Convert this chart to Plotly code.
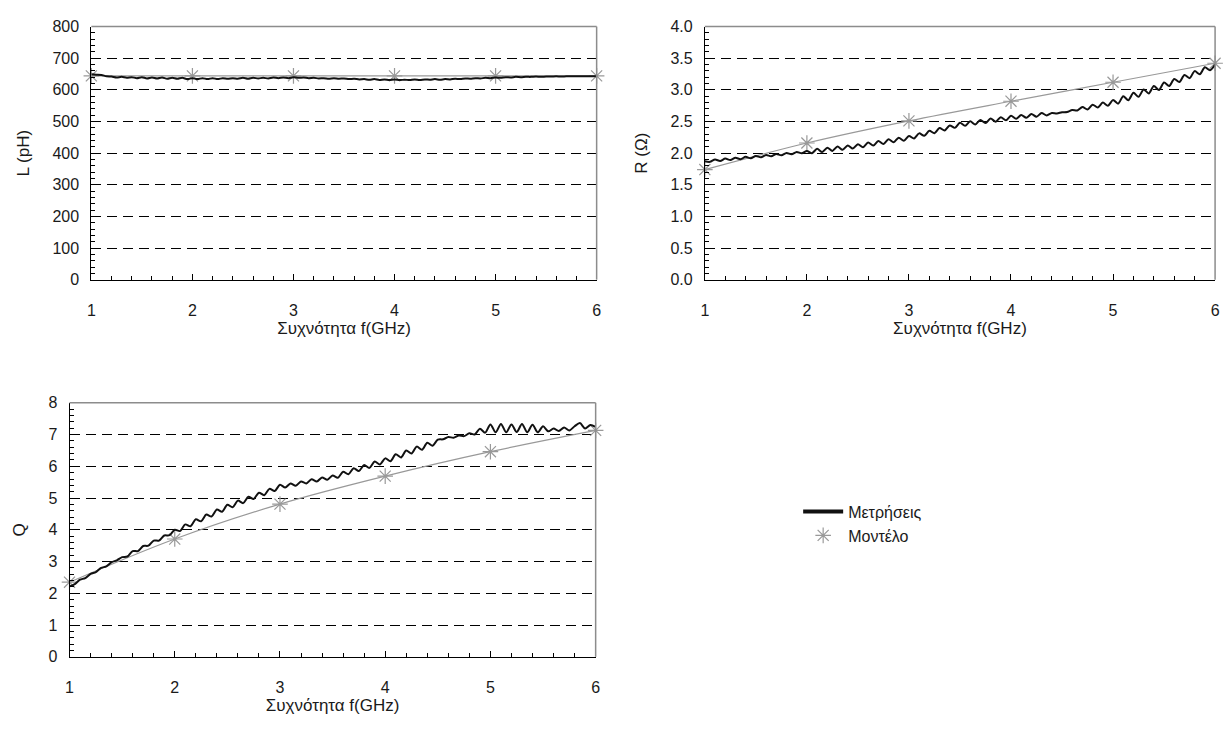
import plotly.graph_objects as go

# ---------------- data ----------------
freq = [1.00, 1.05, 1.10, 1.15, 1.20, 1.25, 1.30, 1.35, 1.40, 1.45,
        1.50, 1.55, 1.60, 1.65, 1.70, 1.75, 1.80, 1.85, 1.90, 1.95,
        2.00, 2.05, 2.10, 2.15, 2.20, 2.25, 2.30, 2.35, 2.40, 2.45,
        2.50, 2.55, 2.60, 2.65, 2.70, 2.75, 2.80, 2.85, 2.90, 2.95,
        3.00, 3.05, 3.10, 3.15, 3.20, 3.25, 3.30, 3.35, 3.40, 3.45,
        3.50, 3.55, 3.60, 3.65, 3.70, 3.75, 3.80, 3.85, 3.90, 3.95,
        4.00, 4.05, 4.10, 4.15, 4.20, 4.25, 4.30, 4.35, 4.40, 4.45,
        4.50, 4.55, 4.60, 4.65, 4.70, 4.75, 4.80, 4.85, 4.90, 4.95,
        5.00, 5.05, 5.10, 5.15, 5.20, 5.25, 5.30, 5.35, 5.40, 5.45,
        5.50, 5.55, 5.60, 5.65, 5.70, 5.75, 5.80, 5.85, 5.90, 5.95,
        6.00]

L_meas = [649, 648, 647, 643, 642, 639, 641, 638, 640, 637,
          640, 636, 639, 636, 639, 635, 638, 635, 638, 634,
          637, 634, 637, 634, 637, 634, 637, 635, 637, 635,
          638, 635, 638, 636, 638, 636, 639, 637, 639, 637,
          640, 638, 639, 637, 638, 636, 637, 635, 637, 635,
          636, 634, 635, 633, 634, 632, 634, 631, 633, 631,
          633, 631, 632, 631, 633, 631, 633, 632, 634, 632,
          634, 633, 635, 634, 636, 635, 637, 636, 638, 637,
          639, 638, 640, 639, 641, 640, 641, 641, 642, 641,
          642, 642, 643, 642, 643, 643, 643, 643, 643, 643,
          643]

R_meas = [1.870, 1.862, 1.899, 1.876, 1.913, 1.890, 1.927, 1.904, 1.941, 1.918,
          1.955, 1.933, 1.971, 1.949, 1.987, 1.965, 2.003, 1.981, 2.019, 1.997,
          2.035, 1.999, 2.068, 2.017, 2.086, 2.035, 2.104, 2.053, 2.122, 2.071,
          2.140, 2.093, 2.166, 2.119, 2.192, 2.145, 2.218, 2.171, 2.244, 2.197,
          2.270, 2.231, 2.312, 2.273, 2.354, 2.315, 2.396, 2.357, 2.438, 2.399,
          2.480, 2.431, 2.502, 2.453, 2.524, 2.475, 2.546, 2.497, 2.568, 2.519,
          2.590, 2.543, 2.601, 2.559, 2.617, 2.575, 2.633, 2.596, 2.634, 2.626,
          2.646, 2.650, 2.680, 2.673, 2.729, 2.690, 2.766, 2.722, 2.798, 2.749,
          2.840, 2.782, 2.899, 2.836, 2.953, 2.890, 3.007, 2.944, 3.061, 2.998,
          3.115, 3.061, 3.172, 3.123, 3.234, 3.185, 3.296, 3.247, 3.358, 3.309,
          3.400]

Q_meas = [2.22, 2.29, 2.43, 2.48, 2.61, 2.67, 2.80, 2.85, 2.98, 3.04,
          3.14, 3.16, 3.33, 3.33, 3.49, 3.50, 3.66, 3.66, 3.82, 3.83,
          4.00, 3.96, 4.17, 4.11, 4.33, 4.27, 4.48, 4.42, 4.64, 4.57,
          4.79, 4.71, 4.92, 4.84, 5.04, 4.97, 5.17, 5.09, 5.29, 5.22,
          5.42, 5.33, 5.46, 5.39, 5.52, 5.46, 5.59, 5.52, 5.65, 5.58,
          5.71, 5.64, 5.83, 5.75, 5.94, 5.85, 6.04, 5.95, 6.15, 6.06,
          6.25, 6.16, 6.38, 6.28, 6.50, 6.40, 6.62, 6.52, 6.74, 6.65,
          6.84, 6.85, 6.92, 6.90, 6.97, 6.95, 7.04, 7.00, 7.18, 7.06,
          7.32, 7.07, 7.33, 7.07, 7.32, 7.08, 7.33, 7.07, 7.31, 7.07,
          7.26, 7.10, 7.19, 7.11, 7.22, 7.13, 7.26, 7.36, 7.19, 7.30,
          7.24]

model_freq = [1, 2, 3, 4, 5, 6]
L_model = [644, 644, 644, 644, 644, 644]
R_model = [1.74, 2.16, 2.51, 2.82, 3.12, 3.42]
Q_model = [2.35, 3.71, 4.81, 5.69, 6.46, 7.13]

x_title = "Συχνότητα f(GHz)"
y_titles = ["L (pH)", "R (Ω)", "Q"]
y_ranges = [[0, 800], [0, 4.0], [0, 8]]
y_dticks = [100, 0.5, 1]
y_formats = ["d", ".1f", "d"]
name_meas = "Μετρήσεις"
name_model = "Μοντέλο"

# ---------------- style ----------------
FONT = "Liberation Sans Narrow, Arial Narrow, Liberation Sans, Arial, sans-serif"
TXT = "#1a1a1a"
MODEL_C = "#999999"
W, H = 1232, 745

# panel pixel boxes: (left, right, top, bottom)
boxes = [(88, 597, 19, 278), (706, 1220, 19, 278), (66, 596, 404, 664)]

fig = go.Figure()
meas_series = [L_meas, R_meas, Q_meas]
model_series = [L_model, R_model, Q_model]

for i in range(3):
    sfx = "" if i == 0 else str(i + 1)
    xa, ya = "x" + sfx, "y" + sfx
    fig.add_trace(go.Scatter(x=model_freq, y=model_series[i], xaxis=xa, yaxis=ya,
                             mode="lines+markers", line=dict(color=MODEL_C, width=1.2, shape="spline"),
                             marker=dict(symbol="asterisk-open", size=13, color=MODEL_C,
                                         line=dict(color=MODEL_C, width=1.2)),
                             cliponaxis=False, showlegend=False, hoverinfo="skip"))
    fig.add_trace(go.Scatter(x=freq, y=meas_series[i], xaxis=xa, yaxis=ya,
                             mode="lines", line=dict(color="#111111", width=2, shape="spline", smoothing=0.8),
                             showlegend=False))

# legend-only entries
fig.add_trace(go.Scatter(x=[None], y=[None], xaxis="x3", yaxis="y3", mode="lines",
                         line=dict(color="#111111", width=4), name=name_meas))
fig.add_trace(go.Scatter(x=[None], y=[None], xaxis="x3", yaxis="y3", mode="markers",
                         marker=dict(symbol="asterisk-open", size=13, color=MODEL_C,
                                     line=dict(color=MODEL_C, width=1.2)), name=name_model))

layout = dict(
    width=W, height=H, margin=dict(l=0, r=0, t=0, b=0),
    paper_bgcolor="white", plot_bgcolor="white",
    font=dict(family=FONT, size=16, color=TXT),
    showlegend=True,
    legend=dict(x=800 / W, y=1 - 498 / H, xanchor="left", yanchor="top",
                font=dict(family=FONT, size=16, color=TXT), bgcolor="rgba(0,0,0,0)",
                tracegroupgap=0, itemwidth=40),
)

shapes = []
for i, (l, r, t, b) in enumerate(boxes):
    sfx = "" if i == 0 else str(i + 1)
    layout["xaxis" + sfx] = dict(
        domain=[l / W, r / W], anchor="y" + sfx, range=[1, 6], tick0=1, dtick=1,
        ticks="inside", ticklen=6, tickcolor="black", tickwidth=1,
        showline=True, linecolor="black", linewidth=1, showgrid=False, zeroline=False,
        minor=dict(dtick=0.2, ticks="inside", ticklen=4, tickcolor="black", showgrid=False),
        tickfont=dict(size=16), ticklabelstandoff=16,
        title=dict(text=x_title, font=dict(size=17), standoff=0),
        fixedrange=True,
    )
    layout["yaxis" + sfx] = dict(
        domain=[1 - b / H, 1 - t / H], anchor="x" + sfx, range=y_ranges[i],
        tick0=0, dtick=y_dticks[i], tickformat=y_formats[i],
        ticks="inside", ticklen=6, tickcolor="black", tickwidth=1,
        showline=True, linecolor="black", linewidth=1, zeroline=False,
        showgrid=True, gridcolor="black", gridwidth=1, griddash="10px,6px",
        minor=dict(dtick=y_dticks[i] / 5, ticks="inside", ticklen=4, tickcolor="black", showgrid=False),
        tickfont=dict(size=16), ticklabelstandoff=8,
        title=dict(text=y_titles[i], font=dict(size=17), standoff=18),
        fixedrange=True,
    )
    xr = "x" + sfx + " domain"
    yr = "y" + sfx + " domain"
    shapes.append(dict(type="line", xref=xr, yref=yr, x0=0, x1=1, y0=1, y1=1,
                       line=dict(color="#8c8c8c", width=1.5), layer="above"))
    shapes.append(dict(type="line", xref=xr, yref=yr, x0=1, x1=1, y0=0, y1=1,
                       line=dict(color="#8c8c8c", width=1.5), layer="above"))

layout["shapes"] = shapes
fig.update_layout(**layout)

fig.write_html("out.html", config={"displayModeBar": False},
               post_script="document.body.style.margin='0';document.body.style.overflow='hidden';")
